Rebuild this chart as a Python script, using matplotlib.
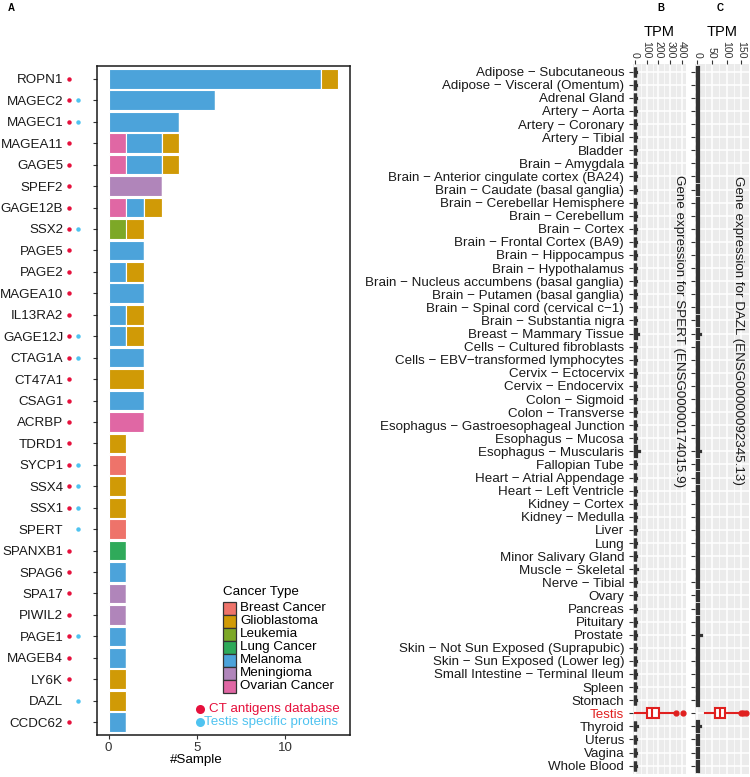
import matplotlib
matplotlib.use("Agg")
import matplotlib.pyplot as plt
from matplotlib.transforms import blended_transform_factory
from matplotlib.patches import Rectangle
from matplotlib.lines import Line2D
import numpy as np

plt.rcParams['font.family'] = ['Liberation Sans', 'DejaVu Sans']

# ---------------- data: panel A ----------------
genes = ["ROPN1", "MAGEC2", "MAGEC1", "MAGEA11", "GAGE5", "SPEF2", "GAGE12B", "SSX2",
         "PAGE5", "PAGE2", "MAGEA10", "IL13RA2", "GAGE12J", "CTAG1A", "CT47A1", "CSAG1",
         "ACRBP", "TDRD1", "SYCP1", "SSX4", "SSX1", "SPERT", "SPANXB1", "SPAG6", "SPA17",
         "PIWIL2", "PAGE1", "MAGEB4", "LY6K", "DAZL", "CCDC62"]
ovarian      = [0, 0, 0, 1, 1, 0, 1, 0, 0, 0, 0, 0, 0, 0, 0, 0, 2, 0, 0, 0, 0, 0, 0, 0, 0, 0, 0, 0, 0, 0, 0]
meningioma   = [0, 0, 0, 0, 0, 3, 0, 0, 0, 0, 0, 0, 0, 0, 0, 0, 0, 0, 0, 0, 0, 0, 0, 0, 1, 1, 0, 0, 0, 0, 0]
melanoma     = [12, 6, 4, 2, 2, 0, 1, 0, 2, 1, 2, 1, 1, 2, 0, 2, 0, 0, 0, 0, 0, 0, 0, 1, 0, 0, 1, 1, 0, 0, 1]
lung         = [0, 0, 0, 0, 0, 0, 0, 0, 0, 0, 0, 0, 0, 0, 0, 0, 0, 0, 0, 0, 0, 0, 1, 0, 0, 0, 0, 0, 0, 0, 0]
leukemia     = [0, 0, 0, 0, 0, 0, 0, 1, 0, 0, 0, 0, 0, 0, 0, 0, 0, 0, 0, 0, 0, 0, 0, 0, 0, 0, 0, 0, 0, 0, 0]
glioblastoma = [1, 0, 0, 1, 1, 0, 1, 1, 0, 1, 0, 1, 1, 0, 2, 0, 0, 1, 0, 1, 1, 0, 0, 0, 0, 0, 0, 0, 1, 1, 0]
breast       = [0, 0, 0, 0, 0, 0, 0, 0, 0, 0, 0, 0, 0, 0, 0, 0, 0, 0, 1, 0, 0, 1, 0, 0, 0, 0, 0, 0, 0, 0, 0]

ct_database = [g for g in genes if g not in ("SPERT", "DAZL")]
testis_specific = ["MAGEC2", "MAGEC1", "SSX2", "GAGE12J", "CTAG1A", "SYCP1", "SSX4", "SSX1",
                   "SPERT", "PAGE1", "DAZL"]

cancer_types = ["Breast Cancer", "Glioblastoma", "Leukemia", "Lung Cancer", "Melanoma",
                "Meningioma", "Ovarian Cancer"]
cancer_colors = {"Breast Cancer": "#EE736A", "Glioblastoma": "#D09A06", "Leukemia": "#7DA827",
                 "Lung Cancer": "#2FAA5A", "Melanoma": "#4CA3DA", "Meningioma": "#B085BA",
                 "Ovarian Cancer": "#E067A4"}
stack_order = [("Ovarian Cancer", ovarian), ("Meningioma", meningioma), ("Melanoma", melanoma),
               ("Lung Cancer", lung), ("Leukemia", leukemia), ("Glioblastoma", glioblastoma),
               ("Breast Cancer", breast)]

# ---------------- data: panels B / C ----------------
tissues = ["Adipose − Subcutaneous", "Adipose − Visceral (Omentum)", "Adrenal Gland",
           "Artery − Aorta", "Artery − Coronary", "Artery − Tibial", "Bladder",
           "Brain − Amygdala", "Brain − Anterior cingulate cortex (BA24)",
           "Brain − Caudate (basal ganglia)", "Brain − Cerebellar Hemisphere",
           "Brain − Cerebellum", "Brain − Cortex", "Brain − Frontal Cortex (BA9)",
           "Brain − Hippocampus", "Brain − Hypothalamus",
           "Brain − Nucleus accumbens (basal ganglia)", "Brain − Putamen (basal ganglia)",
           "Brain − Spinal cord (cervical c−1)", "Brain − Substantia nigra",
           "Breast − Mammary Tissue", "Cells − Cultured fibroblasts",
           "Cells − EBV−transformed lymphocytes", "Cervix − Ectocervix", "Cervix − Endocervix",
           "Colon − Sigmoid", "Colon − Transverse", "Esophagus − Gastroesophageal Junction",
           "Esophagus − Mucosa", "Esophagus − Muscularis", "Fallopian Tube",
           "Heart − Atrial Appendage", "Heart − Left Ventricle", "Kidney − Cortex",
           "Kidney − Medulla", "Liver", "Lung", "Minor Salivary Gland", "Muscle − Skeletal",
           "Nerve − Tibial", "Ovary", "Pancreas", "Pituitary", "Prostate",
           "Skin − Not Sun Exposed (Suprapubic)", "Skin − Sun Exposed (Lower leg)",
           "Small Intestine − Terminal Ileum", "Spleen", "Stomach", "Testis", "Thyroid",
           "Uterus", "Vagina", "Whole Blood"]

# non-testis tissues: q3 and upper whisker (TPM), lower quartile / median ~ 0
spert_q3 = [4, 4, 4, 4, 4, 4, 4, 4, 4, 4, 4, 4, 4, 4, 4, 4, 4, 4, 4, 4, 6, 4, 4, 4, 4, 4, 4, 4,
            4, 6, 4, 4, 4, 4, 4, 4, 4, 4, 4, 4, 4, 4, 4, 4, 4, 4, 4, 4, 4, 0, 4, 4, 4, 4]
spert_hi = [8, 8, 8, 8, 8, 8, 8, 8, 8, 8, 8, 8, 8, 8, 8, 8, 8, 8, 8, 8, 30, 8, 8, 8, 8, 8, 8, 8,
            8, 32, 8, 8, 8, 8, 8, 8, 8, 8, 16, 8, 8, 8, 8, 8, 8, 8, 8, 8, 8, 0, 16, 8, 8, 8]
dazl_q3 = [1.5, 1.5, 1.5, 1.5, 1.5, 1.5, 1.5, 1.5, 1.5, 1.5, 1.5, 1.5, 1.5, 1.5, 1.5, 1.5, 1.5,
           1.5, 1.5, 1.5, 2, 1.5, 1.5, 1.5, 1.5, 1.5, 1.5, 1.5, 1.5, 2, 1.5, 1.5, 1.5, 1.5, 1.5,
           1.5, 1.5, 1.5, 1.5, 1.5, 1.5, 1.5, 1.5, 2, 1.5, 1.5, 1.5, 1.5, 1.5, 0, 2, 1.5, 1.5, 1.5]
dazl_hi = [3, 3, 3, 3, 3, 3, 3, 3, 3, 3, 3, 3, 3, 3, 3, 3, 3, 3, 3, 3, 9, 3, 3, 3, 3, 3, 3, 3,
           3, 10, 3, 3, 3, 3, 3, 3, 3, 3, 3, 3, 3, 3, 3, 11, 3, 3, 3, 3, 3, 0, 10, 3, 3, 3]

# testis box statistics (TPM)
spert_testis = dict(whislo=0, q1=102, med=145, q3=204, whishi=335, fliers=[350, 405])
dazl_testis = dict(whislo=26, q1=60, med=77, q3=94, whishi=138, fliers=[149, 157, 166])

spert_ticks = [0, 100, 200, 300, 400]
dazl_ticks = [0, 50, 100, 150]

W, H = 750, 777
fig = plt.figure(figsize=(W / 100, H / 100), dpi=100)
fig.patch.set_facecolor("white")


def fx(x):
    return x / W


def fy(y):
    return 1 - y / H


# ================= Panel A =================
axA = fig.add_axes([fx(97), fy(735), (350 - 97) / W, (735 - 66) / H])
ypos = np.arange(len(genes))
left = np.zeros(len(genes))
for name, vals in stack_order:
    v = np.array(vals, dtype=float)
    axA.barh(ypos, v, left=left, height=0.92, color=cancer_colors[name],
             edgecolor="white", linewidth=0.8)
    left += v
axA.set_ylim(len(genes) - 0.4, -0.6)
axA.set_xlim(-0.65, 13.65)
axA.set_yticks(ypos)
axA.set_yticklabels(genes, fontsize=9.6, color="#1a1a1a")
axA.set_xticks([0, 5, 10])
axA.set_xticklabels(["0", "5", "10"], fontsize=9.6, color="#333333")
axA.tick_params(axis="y", length=2.8, width=0.8, color="#333333", pad=21.5)
axA.tick_params(axis="x", length=2.8, width=0.8, color="#333333", pad=2.5)
for s in axA.spines.values():
    s.set_color("#1a1a1a")
    s.set_linewidth(1.1)

trans = blended_transform_factory(fig.transFigure, axA.transData)
for i, g in enumerate(genes):
    if g in ct_database:
        axA.plot([fx(69)], [i], marker="o", ms=3.2, color="#E6103C", mec="none",
                 transform=trans, clip_on=False)
    if g in testis_specific:
        axA.plot([fx(77.5)], [i], marker="o", ms=3.2, color="#4FC3F0", mec="none",
                 transform=trans, clip_on=False)

fig.text(fx(196.5), fy(760), "#Sample", fontsize=9.6, ha="center", va="center")
fig.text(fx(8), fy(8), "A", fontsize=7, fontweight="bold", ha="left", va="center")

# legend (manual)
fig.text(fx(222.5), fy(592), "Cancer Type", fontsize=9.6, ha="left", va="center")
key_top = 601.5
key_h = 13.0
for k, name in enumerate(cancer_types):
    y0 = key_top + k * key_h
    fig.patches.append(Rectangle((fx(223), fy(y0 + key_h)), 12.5 / W, key_h / H,
                                 transform=fig.transFigure, facecolor=cancer_colors[name],
                                 edgecolor="#333333", linewidth=0.9))
    fig.text(fx(240), fy(y0 + key_h / 2), name, fontsize=9.6, ha="left", va="center")
fig.add_artist(Line2D([fx(199.5)], [fy(709)], marker="o", ms=6.5, color="#E6103C",
                      mec="none", transform=fig.transFigure))
fig.text(fx(209), fy(709), "CT antigens database", fontsize=9.6, color="#E6103C",
         ha="left", va="center")
fig.add_artist(Line2D([fx(199.5)], [fy(721.5)], marker="o", ms=6.5, color="#4FC3F0",
                      mec="none", transform=fig.transFigure))
fig.text(fx(204), fy(721.5), "Testis specific proteins", fontsize=9.6, color="#4FC3F0",
         ha="left", va="center")


# ================= Panels B and C =================
def make_stats(q3_list, hi_list, testis):
    stats = []
    for i, t in enumerate(tissues):
        if t == "Testis":
            d = dict(testis)
        else:
            d = dict(whislo=0, q1=0, med=0, q3=q3_list[i], whishi=hi_list[i], fliers=[])
        stats.append(d)
    return stats


def draw_panel(rect, stats, xlim, ticks, minor, gene_text, text_x, show_labels):
    ax = fig.add_axes(rect)
    ax.set_facecolor("#EBEBEB")
    n = len(tissues)
    for m in minor:
        ax.axvline(m, color="white", lw=0.5, zorder=0)
    for t in ticks:
        ax.axvline(t, color="white", lw=1.1, zorder=0)
    for i in range(n):
        ax.axhline(i, color="white", lw=1.1, zorder=0)
    ti = tissues.index("Testis")
    for i, st in enumerate(stats):
        col = "#E0201F" if i == ti else "#333333"
        lw = 1.5 if i == ti else 2.3
        ax.bxp([st], positions=[i], vert=False, widths=0.75, patch_artist=True,
               showcaps=False,
               boxprops=dict(facecolor="white" if i == ti else col, edgecolor=col,
                             linewidth=lw),
               medianprops=dict(color=col, linewidth=lw),
               whiskerprops=dict(color=col, linewidth=lw),
               flierprops=dict(marker="o", markersize=3.5, markerfacecolor=col,
                               markeredgecolor=col))
    ax.set_xlim(*xlim)
    ax.set_ylim(n - 0.4, -0.6)
    for s in ax.spines.values():
        s.set_visible(False)
    ax.xaxis.tick_top()
    ax.set_xticks(ticks)
    ax.set_xticklabels([str(t) for t in ticks], rotation=-90, fontsize=7.6, color="#333333",
                       va="bottom", ha="center")
    ax.tick_params(axis="x", length=2.8, width=0.8, color="#333333", pad=1.2)
    ax.set_yticks(range(n))
    if show_labels:
        ax.set_yticklabels(tissues, fontsize=9.6, color="#1a1a1a")
        ax.get_yticklabels()[ti].set_color("#E0201F")
    else:
        ax.set_yticklabels([])
    ax.tick_params(axis="y", length=2.8, width=0.8, color="#333333", pad=3.2)
    cx = rect[0] + rect[2] / 2
    fig.text(cx, fy(32), "TPM", fontsize=10.5, ha="center", va="center")
    fig.text(fx(text_x), fy(331), gene_text, rotation=-90, fontsize=9.6,
             ha="center", va="center", color="#1a1a1a")
    return ax


rectB = [fx(632.5), fy(773.5), (685.6 - 632.5) / W, (773.5 - 63.8) / H]
rectC = [fx(695), fy(773.5), (749 - 695) / W, (773.5 - 63.8) / H]
draw_panel(rectB, make_stats(spert_q3, spert_hi, spert_testis), (-20.5, 430.5),
           spert_ticks, [50, 150, 250, 350],
           "Gene expression for SPERT (ENSG00000174015.9)", 679, True)
draw_panel(rectC, make_stats(dazl_q3, dazl_hi, dazl_testis), (-8.5, 176.5),
           dazl_ticks, [25, 75, 125, 175],
           "Gene expression for DAZL (ENSG00000092345.13)", 738, False)
fig.text(fx(661), fy(8), "B", fontsize=7, fontweight="bold", ha="center", va="center")
fig.text(fx(720), fy(8), "C", fontsize=7, fontweight="bold", ha="center", va="center")

fig.savefig("out.png", dpi=100)
